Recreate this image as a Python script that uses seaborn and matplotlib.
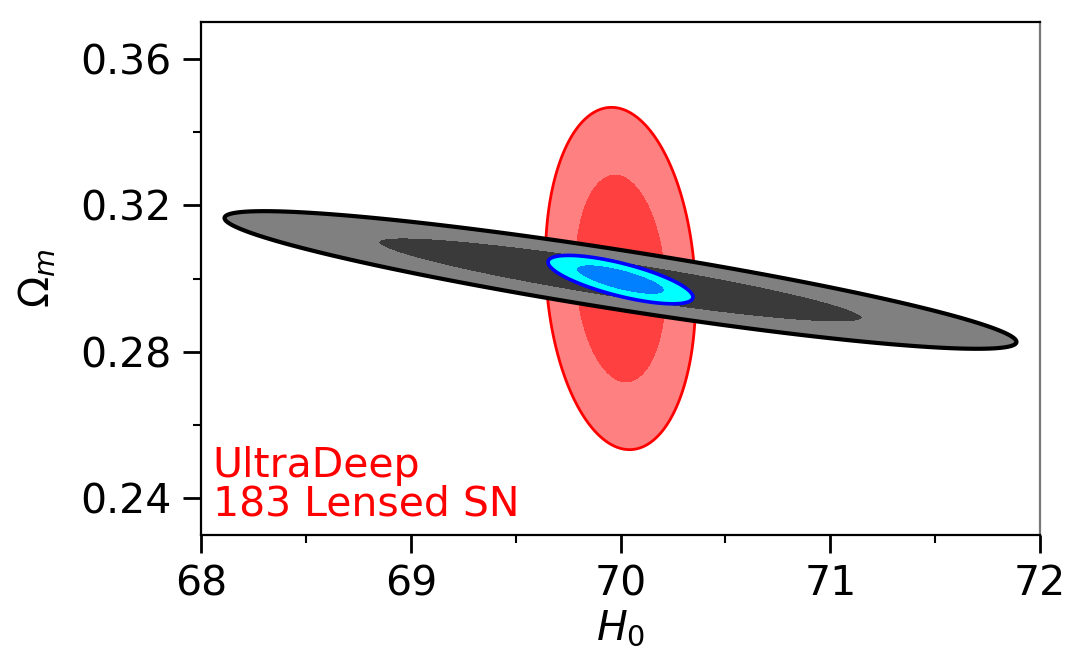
import numpy as np
import matplotlib
matplotlib.use('Agg')
import matplotlib.pyplot as plt
import seaborn as sns

# Fisher-forecast ellipses: lensed SN alone, the other probe, and the combination
names = ['Lensed SN', 'Other probe', 'Combined']
h0_mean = [70.0, 70.0, 70.0]
om_mean = [0.300, 0.2996, 0.2997]
sigma_h0 = [0.144, 0.760, 0.139]
sigma_om = [0.0188, 0.00756, 0.00266]
rho = [-0.12, -0.90, -0.72]
inner_colors = ['#ff4040', '#3a3a3a', '#0080ff']
outer_colors = ['#ff8080', '#808080', '#00ffff']
edge_colors = ['#ff0000', '#000000', '#0000ff']
edge_widths = [2.0, 3.0, 2.6]

x_ticks = [68, 69, 70, 71, 72]
y_ticks = [0.24, 0.28, 0.32, 0.36]
label_lines = ['UltraDeep', '183 Lensed SN']

# delta chi^2 for 68% / 95% in 2 parameters
levels = [0, 2.30, 6.17]

sns.set_theme(style='ticks')
plt.rcParams['font.family'] = ['DejaVu Sans']
plt.rcParams['mathtext.fontset'] = 'dejavusans'
plt.rcParams['text.color'] = 'black'
plt.rcParams['axes.labelcolor'] = 'black'

fig = plt.figure(figsize=(10.68, 6.52), dpi=100)
ax = fig.add_axes([0.1882, 0.1794, 0.7856, 0.7869])

xg = np.linspace(67.5, 72.5, 900)
yg = np.linspace(0.21, 0.39, 900)
X, Y = np.meshgrid(xg, yg)

for i in range(len(names)):
    dx = (X - h0_mean[i]) / sigma_h0[i]
    dy = (Y - om_mean[i]) / sigma_om[i]
    chi2 = (dx**2 - 2 * rho[i] * dx * dy + dy**2) / (1 - rho[i]**2)
    ax.contourf(X, Y, chi2, levels=levels,
                colors=[inner_colors[i], outer_colors[i]], zorder=2 + i)
    ax.contour(X, Y, chi2, levels=[levels[2]], colors=[edge_colors[i]],
               linewidths=edge_widths[i], zorder=2 + i)

ax.set_xlim(68, 72)
ax.set_ylim(0.23, 0.37)
ax.set_xticks(x_ticks)
ax.set_xticklabels([str(t) for t in x_ticks])
ax.set_yticks(y_ticks)
ax.set_yticklabels([f'{t:.2f}' for t in y_ticks])
ax.set_xticks(np.array(x_ticks[:-1]) + 0.5, minor=True)
ax.set_yticks(np.array(y_ticks[:-1]) + 0.02, minor=True)

ax.tick_params(which='major', direction='out', length=13, width=2,
               labelsize=29.5, pad=8, colors='black')
ax.tick_params(which='minor', direction='out', length=6, width=1.5,
               colors='black')
for side in ['left', 'bottom', 'top']:
    ax.spines[side].set_linewidth(1.6)
    ax.spines[side].set_color('black')
ax.spines['right'].set_linewidth(1.6)
ax.spines['right'].set_color('#777777')

ax.set_xlabel(r'$H_0$', fontsize=29.5, labelpad=3, color='black')
ax.set_ylabel(r'$\Omega_m$', fontsize=29.5, labelpad=16, color='black')

ax.text(0.014, 0.039, '\n'.join(label_lines), transform=ax.transAxes,
        color='#ff0000', fontsize=29.5, ha='left', va='baseline',
        linespacing=0.95, zorder=10)

fig.savefig('out.png', dpi=100)
